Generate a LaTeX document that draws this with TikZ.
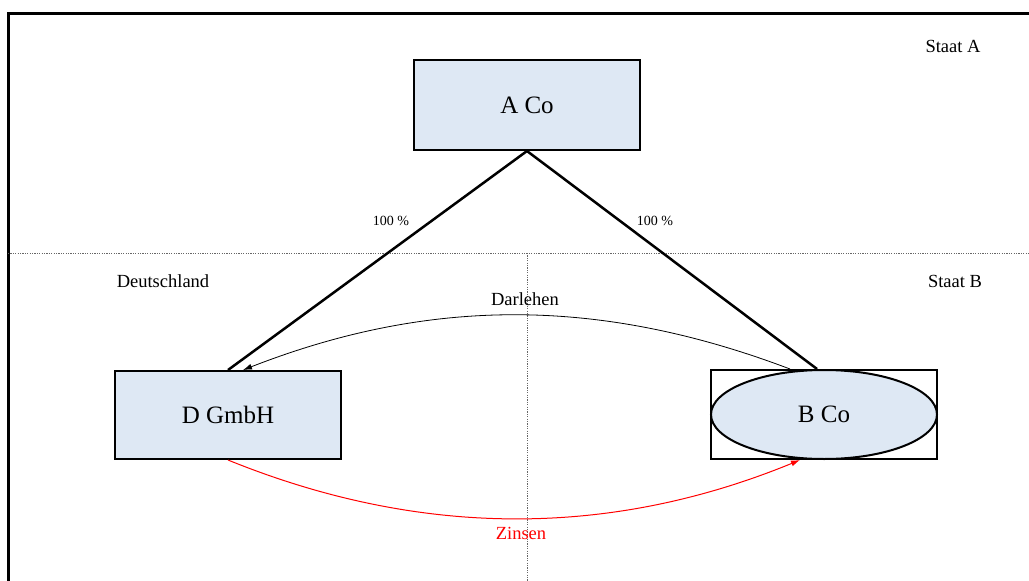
\documentclass[tikz,border=0pt]{standalone}
\usepackage{fontspec}
\setmainfont{Liberation Serif}
\usetikzlibrary{arrows.meta,shapes.geometric}
\definecolor{boxfill}{RGB}{222,232,244}
\begin{document}
\begin{tikzpicture}[x=1pt,y=-1pt,
  company/.style={draw=black,line width=2pt,fill=boxfill,minimum width=226pt,inner sep=0pt,font=\fontsize{25}{29}\selectfont},
  owner/.style={line width=2.5pt},
  lbl/.style={font=\fontsize{18.5}{22}\selectfont},
  pct/.style={font=\fontsize{14}{17}\selectfont},
  border/.style={dash pattern=on 1.2pt off 1.2pt,draw=black!60,line width=1pt},
  tip/.style={-{Latex[length=9pt,width=6pt]}}]
\useasboundingbox (0,0) rectangle (1029,581);
% outer frame
\draw[line width=3pt] (8,581) -- (8,13) -- (1029,13);
% state borders
\coordinate (hl) at (8,253);
\coordinate (hr) at (1029,253);
\coordinate (vt) at (527,253);
\coordinate (vb) at (527,581);
\draw[border] (hl) -- (hr);
\draw[border] (vt) -- (vb);
% companies
\node[company,minimum height=90pt] (aco) at (527,105) {A Co};
\node[company,minimum height=88pt] (dg) at (228,415) {D GmbH};
\node[draw=black,line width=2pt,minimum width=226pt,minimum height=89pt,inner sep=0pt] (bbox) at (824,414.5) {};
\node[company,ellipse,minimum height=89pt] (bco) at (824,414.5) {B Co};
% shareholdings
\draw[owner] (aco.south) -- (dg.north);
\draw[owner] (aco.south) -- ([xshift=-7pt]bbox.north);
% loan and interest
\draw[tip,line width=0.8pt] ([xshift=-34pt]bbox.north) .. controls (600,297) and (430,297) .. ([xshift=15pt]dg.north);
\draw[tip,red,line width=1pt] (dg.south) .. controls (420,538) and (610,538) .. ([xshift=-24pt]bco.south);
% labels
\node[pct] (p1) at (391,221) {100 \%};
\node[pct] (p2) at (655,221) {100 \%};
\node[lbl] (sa) at (953,46) {Staat A};
\node[lbl] (de) at (163,281) {Deutschland};
\node[lbl] (sb) at (955,281) {Staat B};
\node[lbl] (dl) at (525,299) {Darlehen};
\node[lbl,red] (zi) at (521,533) {Zinsen};
\end{tikzpicture}
\end{document}
